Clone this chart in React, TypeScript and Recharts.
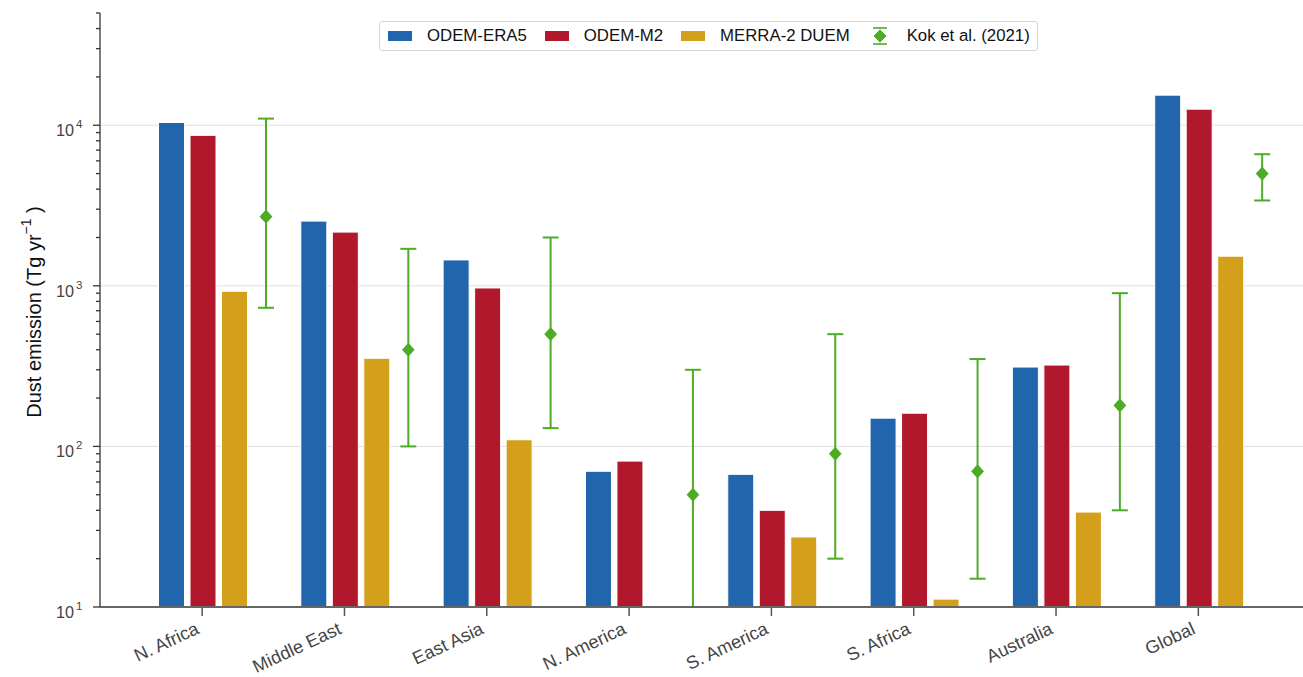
import { ComposedChart, Bar, XAxis, YAxis, CartesianGrid, ErrorBar } from "recharts"

// Regional dust emission, Tg per year
const regions = ["N. Africa", "Middle East", "East Asia", "N. America", "S. America", "S. Africa", "Australia", "Global"]
const odemEra5 = [10400, 2530, 1450, 70, 67, 150, 312, 15400]
const odemM2 = [8650, 2160, 970, 81, 40, 161, 321, 12600]
const merra2 = [925, 354, 110, null, 27.3, 11.2, 39, 1530]
// Kok et al. (2021) central estimate with lower / upper bounds
const kok = [2700, 400, 500, 50, 90, 70, 180, 5000]
const kokLow = [730, 100, 130, 10, 20, 15, 40, 3400]
const kokHigh = [11000, 1700, 2000, 300, 500, 350, 900, 6600]

const majorTicks = [10, 100, 1000, 10000]
const minorSteps = [2, 3, 4, 5, 6, 7, 8, 9]
const yMax = 50000

const BLUE = "#2166ac"
const RED = "#b2182b"
const GOLD = "#d4a01b"
const GREEN = "#4dac26"
const FONT = "'Liberation Sans', Arial, sans-serif"

const data = regions.map((region, i) => ({
  region,
  era5: odemEra5[i],
  m2: odemM2[i],
  merra: merra2[i],
  kok: kok[i],
  kokErr: [kok[i] - kokLow[i], kokHigh[i] - kok[i]],
}))

const yTicks = [
  ...majorTicks,
  ...majorTicks.flatMap((d) => minorSteps.map((m) => d * m)).filter((v) => v <= yMax),
].sort((a, b) => a - b)

const YTick = (props: any) => {
  const { x, y, payload } = props
  const v = payload.value
  const exp = Math.log10(v)
  const major = Math.abs(exp - Math.round(exp)) < 1e-9
  return (
    <g>
      <line x1={x - (major ? 7 : 4)} x2={x} y1={y} y2={y} stroke="#333" strokeWidth={1.3} />
      {major && (
        <text x={x - 44} y={y + 11} fontFamily={FONT} fontSize={16.2} fill="#444">
          <tspan>10</tspan>
          <tspan dx={2} dy={-8} fontSize={11.5}>{Math.round(exp)}</tspan>
        </text>
      )}
    </g>
  )
}

// ticks sit under the ODEM-M2 bar, left of the band centre
const XTick = (props: any) => {
  const { x, y, payload } = props
  const tx = x - 16.5
  const lx = tx - 2
  const ly = y + 26
  return (
    <g>
      <line x1={tx} x2={tx} y1={y + 1} y2={y + 9} stroke="#555" strokeWidth={1.5} />
      <text
        x={lx}
        y={ly}
        textAnchor="end"
        fontFamily={FONT}
        fontSize={18.2}
        fill="#444"
        transform={`rotate(-25 ${lx} ${ly})`}
      >
        {payload.value}
      </text>
    </g>
  )
}

const Diamond = (props: any) => {
  const { x, y, width, value } = props
  if (value == null) return <g />
  const cx = x + width / 2
  const r = 8
  return (
    <path
      d={`M${cx},${y - r}L${cx + r * 0.9},${y}L${cx},${y + r}L${cx - r * 0.9},${y}Z`}
      fill={GREEN}
      stroke="#fff"
      strokeWidth={1.2}
    />
  )
}

const legendItems = [
  { name: "ODEM-ERA5", color: BLUE, kind: "bar" },
  { name: "ODEM-M2", color: RED, kind: "bar" },
  { name: "MERRA-2 DUEM", color: GOLD, kind: "bar" },
  { name: "Kok et al. (2021)", color: GREEN, kind: "err" },
]

function LegendBox() {
  return (
    <div
      style={{
        position: "absolute",
        left: 379,
        top: 21,
        height: 28,
        padding: "0 7px 0 8px",
        border: "1px solid #d4d4d4",
        borderRadius: 3,
        background: "#fff",
        display: "flex",
        alignItems: "center",
        fontFamily: FONT,
        fontSize: 16.8,
        color: "#111",
        whiteSpace: "nowrap",
      }}
    >
      {legendItems.map((it, i) => (
        <div key={it.name} style={{ display: "flex", alignItems: "center", marginLeft: i === 0 ? 0 : 18 }}>
          <svg width={24} height={20} style={{ marginRight: 15 }}>
            {it.kind === "bar" ? (
              <rect x={0} y={5} width={24} height={10} fill={it.color} />
            ) : (
              <g stroke={it.color} strokeWidth={1.6}>
                <line x1={12} x2={12} y1={2} y2={18} />
                <line x1={5} x2={19} y1={2} y2={2} />
                <line x1={5} x2={19} y1={18} y2={18} />
                <path d="M12,3L19,10L12,17L5,10Z" fill={it.color} stroke="#fff" strokeWidth={1} />
              </g>
            )}
          </svg>
          <span>{it.name}</span>
        </div>
      ))}
    </div>
  )
}

export default function App() {
  return (
    <div style={{ position: "absolute", left: 0, top: 0, width: 1303, height: 677, background: "#fff" }}>
      <ComposedChart
        width={1303}
        height={677}
        data={data}
        margin={{ top: 13, right: 0, bottom: 0, left: 0 }}
        barSize={26}
        barGap={5.5}
      >
        <CartesianGrid horizontal vertical={false} horizontalValues={[100, 1000, 10000]} stroke="#e0e0e0" />
        <XAxis
          dataKey="region"
          height={70}
          padding={{ left: 47.5, right: 17 }}
          interval={0}
          tickLine={false}
          tickSize={0}
          tickMargin={0}
          axisLine={{ stroke: "#666", strokeWidth: 2 }}
          tick={<XTick />}
        />
        <YAxis
          width={100}
          scale="log"
          type="number"
          domain={[10, yMax]}
          allowDataOverflow
          ticks={yTicks}
          interval={0}
          tickLine={false}
          tickSize={0}
          tickMargin={0}
          axisLine={{ stroke: "#333", strokeWidth: 1.3 }}
          tick={<YTick />}
          label={{
            content: () => (
              <text
                x={41}
                y={312}
                textAnchor="middle"
                fontFamily={FONT}
                fontSize={20}
                fill="#111"
                transform="rotate(-90 41 312)"
              >
                <tspan>Dust emission (Tg yr</tspan>
                <tspan dy={-10} fontSize={14}>−1</tspan>
                <tspan dy={10}> )</tspan>
              </text>
            ),
          }}
        />
        <Bar dataKey="era5" name="ODEM-ERA5" fill={BLUE} stroke="#fff" strokeWidth={1} isAnimationActive={false} />
        <Bar dataKey="m2" name="ODEM-M2" fill={RED} stroke="#fff" strokeWidth={1} isAnimationActive={false} />
        <Bar dataKey="merra" name="MERRA-2 DUEM" fill={GOLD} stroke="#fff" strokeWidth={1} isAnimationActive={false} />
        <Bar dataKey="kok" name="Kok et al. (2021)" fill={GREEN} shape={<Diamond />} isAnimationActive={false}>
          <ErrorBar dataKey="kokErr" direction="y" width={8} stroke={GREEN} strokeWidth={2} />
        </Bar>
      </ComposedChart>
      <LegendBox />
    </div>
  )
}
